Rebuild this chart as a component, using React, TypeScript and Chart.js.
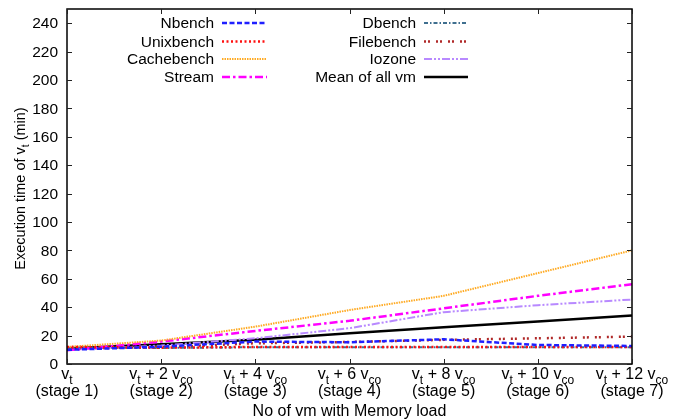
import React, { useEffect, useRef } from "react";
import { Chart, registerables } from "chart.js";

Chart.register(...registerables);

const categories = ["stage 1", "stage 2", "stage 3", "stage 4", "stage 5", "stage 6", "stage 7"];
const xTickLabels = ["v_{t}", "v_{t} + 2 v_{co}", "v_{t} + 4 v_{co}", "v_{t} + 6 v_{co}", "v_{t} + 8 v_{co}", "v_{t} + 10 v_{co}", "v_{t} + 12 v_{co}"];
const stageLabels = ["(stage 1)", "(stage 2)", "(stage 3)", "(stage 4)", "(stage 5)", "(stage 6)", "(stage 7)"];
const yTicks = [0, 20, 40, 60, 80, 100, 120, 140, 160, 180, 200, 220, 240];

const nbench = [10, 12.2, 15.8, 15.3, 17.4, 13.4, 12.7];
const unixbench = [12, 11.5, 12, 12, 12, 12, 12];
const cachebench = [12, 16.5, 26.3, 38, 48, 64, 80];
const stream = [9.6, 15.8, 23.3, 30.4, 39.2, 48, 56.2];
const dbench = [11.5, 11.3, 11.8, 11.8, 11.8, 11.8, 11.8];
const filebench = [11, 11.8, 14.6, 15.5, 17, 18.1, 19.3];
const iozone = [10, 13, 18.1, 25.2, 36.5, 41.4, 45.4];
const meanAll = [11, 13.9, 17, 21.6, 25.9, 29.9, 34.1];

const yTitle = "Execution time of v_{t} (min)";
const xTitle = "No of vm with Memory load";

const FONT = "Liberation Sans, Arial, Helvetica, sans-serif";

type Part = { t: string; sub: boolean };
function parseSub(s: string): Part[] {
  const parts: Part[] = [];
  const re = /_\{([^}]*)\}/g;
  let last = 0;
  let m: RegExpExecArray | null;
  while ((m = re.exec(s))) {
    if (m.index > last) parts.push({ t: s.slice(last, m.index), sub: false });
    parts.push({ t: m[1], sub: true });
    last = m.index + m[0].length;
  }
  if (last < s.length) parts.push({ t: s.slice(last), sub: false });
  return parts;
}

function drawRich(ctx: CanvasRenderingContext2D, s: string, cx: number, baseline: number, size: number) {
  const parts = parseSub(s);
  const subSize = Math.round(size * 0.72);
  let w = 0;
  for (const p of parts) {
    ctx.font = `${p.sub ? subSize : size}px ${FONT}`;
    w += ctx.measureText(p.t).width;
  }
  let x = cx - w / 2;
  ctx.textAlign = "left";
  ctx.textBaseline = "alphabetic";
  for (const p of parts) {
    ctx.font = `${p.sub ? subSize : size}px ${FONT}`;
    ctx.fillText(p.t, x, baseline + (p.sub ? Math.round(size * 0.3) : 0));
    x += ctx.measureText(p.t).width;
  }
}

const seriesDefs = [
  { label: "Nbench", data: nbench, color: "#1f1fff", dash: [5, 2.5], width: 2.5 },
  { label: "Unixbench", data: unixbench, color: "#ff1010", dash: [2, 2.5], width: 2.5 },
  { label: "Cachebench", data: cachebench, color: "#ffaa22", dash: [1.5, 1], width: 2 },
  { label: "Stream", data: stream, color: "#ff00ff", dash: [8, 3, 2.5, 3], width: 2.5 },
  { label: "Dbench", data: dbench, color: "#3f6f8f", dash: [4, 2, 1.5, 2], width: 2 },
  { label: "Filebench", data: filebench, color: "#b02828", dash: [2, 2, 2, 6], width: 2.5 },
  { label: "Iozone", data: iozone, color: "#b889ff", dash: [8, 2, 2, 2, 2, 2], width: 2 },
  { label: "Mean of all vm", data: meanAll, color: "#000000", dash: [], width: 2.5 },
];

const decorPlugin = {
  id: "decor",
  afterDraw(chart: any) {
    const ctx: CanvasRenderingContext2D = chart.ctx;
    const { left, right, top, bottom } = chart.chartArea;
    const xs = chart.scales.x;
    const ys = chart.scales.y;
    ctx.save();
    // border
    ctx.strokeStyle = "#000";
    ctx.lineWidth = 1.5;
    ctx.setLineDash([]);
    ctx.strokeRect(left, top, right - left, bottom - top);
    // ticks
    ctx.lineWidth = 1;
    ctx.strokeStyle = "#222";
    const tl = 5;
    for (const v of yTicks) {
      const y = Math.round(ys.getPixelForValue(v)) + 0.5;
      ctx.beginPath();
      ctx.moveTo(left, y);
      ctx.lineTo(left + tl, y);
      ctx.moveTo(right, y);
      ctx.lineTo(right - tl, y);
      ctx.stroke();
    }
    for (let i = 0; i < categories.length; i++) {
      const x = Math.round(xs.getPixelForValue(i)) + 0.5;
      ctx.beginPath();
      ctx.moveTo(x, bottom);
      ctx.lineTo(x, bottom - tl);
      ctx.moveTo(x, top);
      ctx.lineTo(x, top + tl);
      ctx.stroke();
    }
    // y tick labels
    ctx.fillStyle = "#000";
    ctx.font = `15.5px ${FONT}`;
    ctx.textAlign = "right";
    ctx.textBaseline = "middle";
    for (const v of yTicks) {
      ctx.fillText(String(v), left - 9, ys.getPixelForValue(v) + 1);
    }
    // x tick labels
    for (let i = 0; i < categories.length; i++) {
      const x = xs.getPixelForValue(i);
      drawRich(ctx, xTickLabels[i], x, bottom + 15, 16);
      ctx.font = `16px ${FONT}`;
      ctx.textAlign = "center";
      ctx.textBaseline = "alphabetic";
      ctx.fillText(stageLabels[i], x, bottom + 32);
    }
    // x title
    ctx.font = `16px ${FONT}`;
    ctx.textAlign = "center";
    ctx.fillText(xTitle, (left + right) / 2, bottom + 52);
    // y title
    ctx.save();
    ctx.translate(25, (top + bottom) / 2 + 2);
    ctx.rotate(-Math.PI / 2);
    drawRich(ctx, yTitle, 0, 0, 14.5);
    ctx.restore();
    // legend
    const rows = [23, 41.5, 59, 77];
    const cols = [
      { textRight: 214, x0: 222, x1: 267 },
      { textRight: 416, x0: 424, x1: 468 },
    ];
    chart.data.datasets.forEach((ds: any, i: number) => {
      const col = cols[Math.floor(i / 4)];
      const y = rows[i % 4];
      ctx.font = `15.5px ${FONT}`;
      ctx.textAlign = "right";
      ctx.textBaseline = "middle";
      ctx.fillStyle = "#000";
      ctx.fillText(ds.label, col.textRight, y + 1);
      ctx.strokeStyle = ds.borderColor;
      ctx.lineWidth = ds.borderWidth;
      ctx.setLineDash(ds.borderDash || []);
      ctx.beginPath();
      ctx.moveTo(col.x0, y);
      ctx.lineTo(col.x1, y);
      ctx.stroke();
    });
    ctx.restore();
  },
};

export default function App() {
  const ref = useRef<HTMLCanvasElement | null>(null);
  useEffect(() => {
    if (!ref.current) return;
    const chart = new Chart(ref.current, {
      type: "line",
      data: {
        labels: categories,
        datasets: seriesDefs.map((s) => ({
          label: s.label,
          data: s.data,
          borderColor: s.color,
          backgroundColor: s.color,
          borderDash: s.dash,
          borderWidth: s.width,
          pointRadius: 0,
          tension: 0,
          fill: false,
        })),
      },
      options: {
        animation: false,
        responsive: false,
        layout: { padding: { left: 67, right: 41, top: 9, bottom: 55 } },
        scales: {
          x: { display: false, offset: false },
          y: { display: false, min: 0, max: 250 },
        },
        plugins: { legend: { display: false }, tooltip: { enabled: false } },
      },
      plugins: [decorPlugin],
    } as any);
    return () => chart.destroy();
  }, []);
  return (
    <div style={{ position: "absolute", left: 0, top: 0, width: 673, height: 419, background: "#fff" }}>
      <canvas ref={ref} width={673} height={419} />
    </div>
  );
}
